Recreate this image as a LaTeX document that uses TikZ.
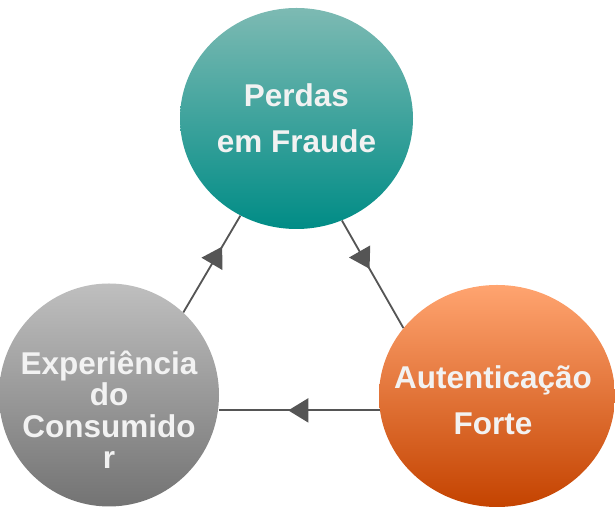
\documentclass[tikz,border=0pt]{standalone}
\usepackage{fontspec}
\setmainfont{Liberation Sans}
\usepackage{tikz}
\usetikzlibrary{shapes.geometric, arrows.meta, decorations.markings}

\definecolor{tealtopo}{HTML}{7DBAB3}
\definecolor{tealbase}{HTML}{008C86}
\definecolor{cinzatopo}{HTML}{BFBFBF}
\definecolor{cinzabase}{HTML}{737373}
\definecolor{laranjatopo}{HTML}{FFA470}
\definecolor{laranjameio}{HTML}{FF6A1C}
\definecolor{laranjabase}{HTML}{C44300}
\definecolor{linha}{HTML}{555555}
\definecolor{textoclaro}{HTML}{F2F2F2}

\begin{document}
\begin{tikzpicture}

            % Estilo dos circulos, dos textos e das setas
            \tikzstyle{bola} = [ellipse, inner sep=0pt]
            \tikzstyle{texto} = [align=center, text=textoclaro, inner sep=0pt,
                                 font=\bfseries\fontsize{22.4}{32.6}\selectfont]
            \tikzset{seta/.style={draw=linha, line width=1.3pt, postaction={decorate},
                     decoration={markings, mark=at position #1 with
                     {\arrow{Triangle[length=0.5cm, width=0.6cm]}}}}}

            \useasboundingbox (0,0) rectangle (15.375,12.675);

            % Circulo de cima
            \node[bola, minimum width=5.825cm, minimum height=5.525cm,
                  top color=tealtopo, bottom color=tealbase] (perdas) at (7.4125,9.7125) {};
            \node[texto] (txtperdas) at (perdas.center) {Perdas \\ em Fraude};

            % Circulo da esquerda
            \node[bola, minimum width=5.5cm, minimum height=5.575cm,
                  top color=cinzatopo, bottom color=cinzabase] (consumidor) at (2.725,2.8) {};
            \node[texto, font=\bfseries\fontsize{22.4}{22.4}\selectfont, yshift=-0.37cm]
                  (txtconsumidor) at (consumidor.center) {Experiência \\ do \\ Consumido \\ r};

            % Circulo da direita
            \node[bola, minimum width=5.9cm, minimum height=5.55cm,
                  top color=laranjatopo, middle color=laranjameio, bottom color=laranjabase]
                  (autenticacao) at (12.425,2.775) {};
            \node[texto, xshift=-0.1cm, yshift=-0.1cm] (txtautenticacao)
                  at (autenticacao.center) {Autenticação \\ Forte};

            % Setas do ciclo
            \draw[seta=0.68] (consumidor.48) -- (perdas.240);
            \draw[seta=0.45] (perdas.294) -- (autenticacao.144);
            \draw[seta=0.57] (autenticacao.187) -- (autenticacao.187 -| consumidor.east);

\end{tikzpicture}
\end{document}
